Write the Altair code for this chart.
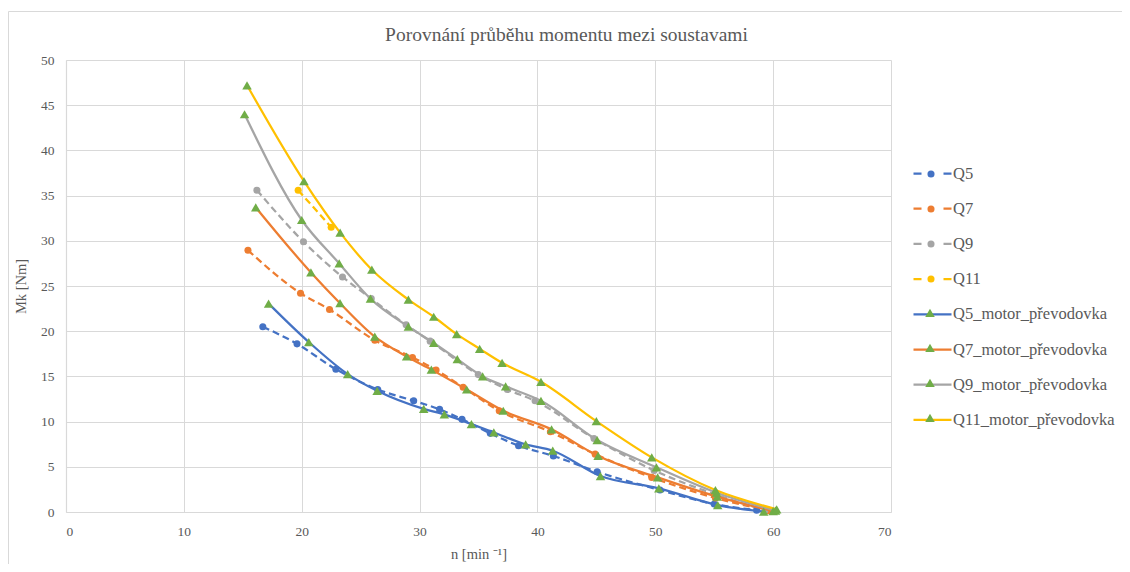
import altair as alt
import pandas as pd

# ---------------- data ----------------
series_dash = ["Q5", "Q7", "Q9", "Q11"]
series_solid = ["Q5_motor_převodovka", "Q7_motor_převodovka",
                "Q9_motor_převodovka", "Q11_motor_převodovka"]

q5_n = [16.7, 19.6, 22.9, 26.45, 29.5, 31.7, 33.6, 36.0, 38.4, 41.35, 45.07, 50.4, 55.0, 58.6]
q5_mk = [20.5, 18.6, 15.8, 13.55, 12.3, 11.35, 10.25, 8.7, 7.33, 6.2, 4.45, 2.43, 0.88, 0.2]

q7_n = [15.44, 19.9, 22.36, 26.2, 29.4, 31.4, 33.7, 36.76, 41.1, 44.9, 49.7, 55.1, 59.6]
q7_mk = [28.95, 24.2, 22.4, 19.0, 17.1, 15.7, 13.8, 11.2, 8.87, 6.4, 3.83, 1.55, 0.15]

q9_n = [16.2, 20.15, 23.46, 25.9, 28.86, 30.9, 34.98, 37.45, 39.8, 44.8, 49.9, 55.2, 59.3]
q9_mk = [35.6, 29.9, 26.0, 23.6, 20.7, 18.9, 15.2, 13.55, 12.3, 8.14, 4.6, 1.9, 0.2]

q11_n = [19.7, 22.5]
q11_mk = [35.6, 31.5]

q5m_n = [17.19, 20.6, 23.9, 26.4, 30.35, 32.1, 34.4, 36.3, 39.0, 41.3, 45.35, 50.3, 55.3, 59.2]
q5m_mk = [23.06, 18.8, 15.25, 13.4, 11.4, 10.8, 9.72, 8.8, 7.48, 6.78, 3.98, 2.62, 0.77, 0.03]

q7m_n = [16.1, 20.78, 23.25, 26.2, 28.9, 31.0, 34.0, 37.1, 41.2, 45.15, 50.2, 55.25, 60.0]
q7m_mk = [33.7, 26.5, 23.1, 19.4, 17.2, 15.75, 13.55, 11.2, 9.14, 6.2, 3.83, 1.7, 0.1]

q9m_n = [15.15, 20.0, 23.18, 25.83, 29.05, 31.2, 33.2, 35.35, 37.3, 40.3, 45.07, 50.1, 55.2, 60.2]
q9m_mk = [44.0, 32.3, 27.5, 23.6, 20.5, 18.7, 16.9, 15.0, 13.9, 12.3, 7.96, 4.94, 2.13, 0.15]

q11m_n = [15.36, 20.19, 23.26, 25.95, 29.05, 31.2, 33.15, 35.1, 37.0, 40.3, 45.0, 49.7, 55.1, 60.3]
q11m_mk = [47.2, 36.6, 30.9, 26.8, 23.5, 21.6, 19.67, 18.05, 16.5, 14.4, 10.05, 6.04, 2.43, 0.3]

x_ticks = [0, 10, 20, 30, 40, 50, 60, 70]
y_ticks = [0, 5, 10, 15, 20, 25, 30, 35, 40, 45, 50]


def frame(name, ns, mks):
    return pd.DataFrame({"series": name, "n": ns, "Mk": mks})


df_dash = pd.concat([
    frame("Q5", q5_n, q5_mk),
    frame("Q7", q7_n, q7_mk),
    frame("Q9", q9_n, q9_mk),
    frame("Q11", q11_n, q11_mk),
], ignore_index=True)

df_solid = pd.concat([
    frame("Q5_motor_převodovka", q5m_n, q5m_mk),
    frame("Q7_motor_převodovka", q7m_n, q7m_mk),
    frame("Q9_motor_převodovka", q9m_n, q9m_mk),
    frame("Q11_motor_převodovka", q11m_n, q11m_mk),
], ignore_index=True)

# ---------------- style ----------------
BLUE, ORANGE, GRAY, YELLOW, GREEN = "#4472C4", "#ED7D31", "#A5A5A5", "#FFC000", "#70AD47"
TXT = "#595959"
FONT = "Liberation Serif"
line_colors = [BLUE, ORANGE, GRAY, YELLOW]

W, H = 825, 452
LEG_X = 846
LEG_Y = 93
ROW = 35.2

axis_style = dict(grid=True, gridColor="#D9D9D9", gridWidth=1,
                  domainColor="#D9D9D9", domainWidth=1.2, ticks=False,
                  labelFont=FONT, labelFontSize=13.5, labelColor=TXT, labelPadding=12,
                  titleFont=FONT, titleFontSize=14.5, titleFontWeight="normal",
                  titleColor=TXT)

x_enc = alt.X("n:Q", scale=alt.Scale(domain=[0, 70], nice=False),
              axis=alt.Axis(values=x_ticks, title="n [min ⁻¹]", format="d",
                            titlePadding=10, **axis_style))
y_enc = alt.Y("Mk:Q", scale=alt.Scale(domain=[0, 50], nice=False),
              axis=alt.Axis(values=y_ticks, title="Mk [Nm]", format="d",
                            titlePadding=12, **axis_style))


def line_legend(y):
    return dict(orient="none", legendX=LEG_X, legendY=y, title=None,
                symbolType="M-1,0L1,0", symbolSize=1444, symbolStrokeWidth=2.25,
                labelFont=FONT, labelFontSize=16.5, labelColor=TXT, labelOffset=0,
                labelLimit=400, rowPadding=6.2, padding=0)


def marker_legend(y, dx, shape, size):
    return dict(orient="none", legendX=LEG_X + dx, legendY=y, title=None,
                symbolType=shape, symbolSize=size, symbolStrokeWidth=0,
                labelExpr="''", rowPadding=25, padding=0)


dash_lines = alt.Chart(df_dash).mark_line(
    interpolate="monotone", strokeWidth=2.25, strokeDash=[7, 4]
).encode(
    x=x_enc, y=y_enc,
    stroke=alt.Stroke("series:N",
                      scale=alt.Scale(domain=series_dash, range=line_colors),
                      legend=alt.Legend(symbolDash=[8, 22], **line_legend(LEG_Y))),
)

solid_lines = alt.Chart(df_solid).mark_line(
    interpolate="monotone", strokeWidth=2.25
).encode(
    x=x_enc, y=y_enc,
    stroke=alt.Stroke("series:N",
                      scale=alt.Scale(domain=series_solid, range=line_colors),
                      legend=alt.Legend(**line_legend(LEG_Y + 4 * ROW))),
)

circles = alt.Chart(df_dash).mark_point(
    shape="circle", filled=True, size=50, opacity=1
).encode(
    x=x_enc, y=y_enc,
    fill=alt.Fill("series:N",
                  scale=alt.Scale(domain=series_dash, range=line_colors),
                  legend=alt.Legend(**marker_legend(LEG_Y + 16, 14, "circle", 50))),
)

triangles = alt.Chart(df_solid).mark_point(
    shape="triangle-up", filled=True, size=90, opacity=1
).encode(
    x=x_enc, y=y_enc,
    fill=alt.Fill("series:N",
                  scale=alt.Scale(domain=series_solid, range=[GREEN] * 4),
                  legend=alt.Legend(**marker_legend(LEG_Y + 4 * ROW + 14, 13,
                                                    "triangle-up", 90))),
)

border = alt.Chart(pd.DataFrame({"a": [0]})).mark_rect(
    fill=None, stroke="#D9D9D9", strokeWidth=1, clip=False
).encode(
    x=alt.value(-57.5), x2=alt.value(1075), y=alt.value(-48.5), y2=alt.value(520)
)

chart = alt.layer(border, dash_lines, circles, solid_lines, triangles).resolve_scale(
    stroke="independent", fill="independent"
).resolve_legend(
    stroke="independent", fill="independent"
).properties(
    width=W, height=H,
    background="white",
    autosize=alt.AutoSizeParams(type="none"),
    padding={"left": 58, "top": 52, "right": 231, "bottom": 52},
    title=alt.TitleParams("Porovnání průběhu momentu mezi soustavami",
                          font=FONT, fontSize=19.5, fontWeight="normal", color=TXT,
                          anchor="middle", frame="group", dx=88, dy=48, offset=14),
).configure_view(
    stroke=None
)

chart.save("out.html", embed_options={"renderer": "svg", "actions": False})
